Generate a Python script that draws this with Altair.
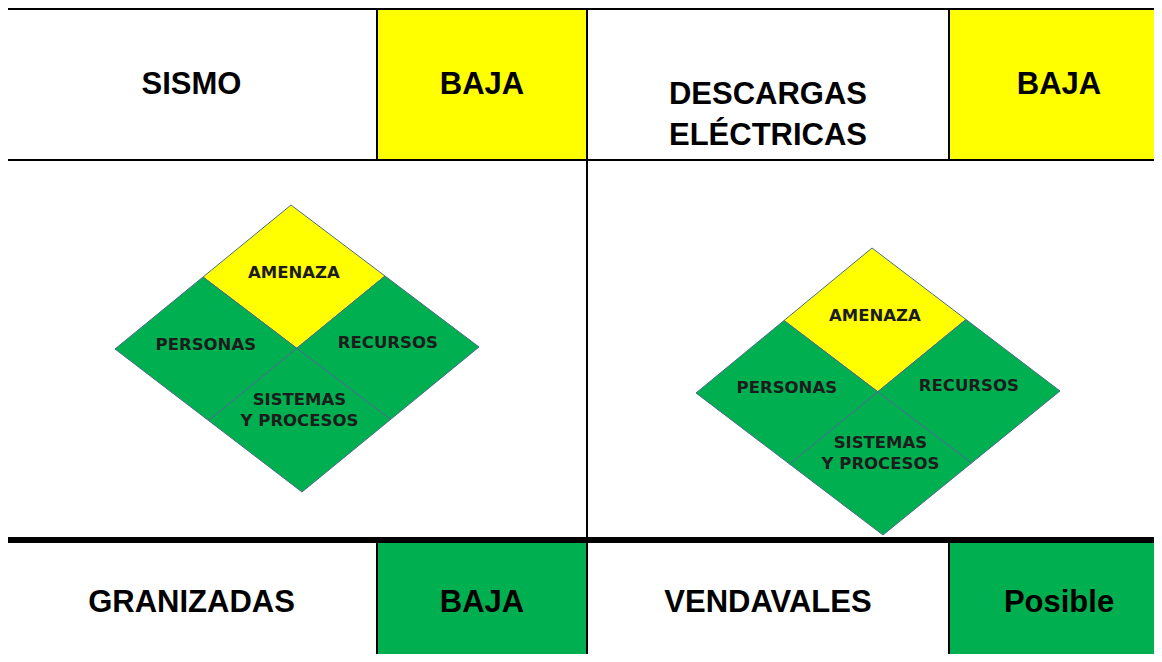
import altair as alt
import pandas as pd

# ---------------- table content ----------------
col_edges = [6, 377, 587, 949, 1170]
row_edges = [9, 160, 540, 662]

top_labels = ["SISMO", "BAJA", "DESCARGAS\nELÉCTRICAS", "BAJA"]
top_fills = ["#FFFFFF", "#FFFF00", "#FFFFFF", "#FFFF00"]
bottom_labels = ["GRANIZADAS", "BAJA", "VENDAVALES", "Posible"]
bottom_fills = ["#FFFFFF", "#00B050", "#FFFFFF", "#00B050"]

# ---------------- diamonds ----------------
quadrant_names = ["AMENAZA", "RECURSOS", "SISTEMAS\nY PROCESOS", "PERSONAS"]
quadrant_fills = ["#FFFF00", "#00B050", "#00B050", "#00B050"]
quadrant_label_dy = [-4, -5, -20, -4]
# vertices: top, right, bottom, left
diamond_left = [(291, 205), (479, 347), (302, 492), (115, 349)]
diamond_right = [(872, 248), (1060, 391), (883, 535), (696, 393)]

# ---------------- build tables ----------------
cells = []
for r, (labels, fills) in zip([0, 2], [(top_labels, top_fills), (bottom_labels, bottom_fills)]):
    y1, y2 = row_edges[r], row_edges[r + 1]
    for c in range(4):
        x1, x2 = col_edges[c], col_edges[c + 1]
        lab = labels[c]
        ty = (y1 + y2) / 2 + (0.5 if r == 0 else 2)
        if "\n" in lab:
            ty = (y1 + y2) / 2 + 10.5
        cells.append(dict(x=x1, x2=x2, y=y1, y2=y2, fill=fills[c], label=lab,
                          tx=(x1 + x2) / 2 if c < 3 else x1 + 110, ty=ty))
cells_df = pd.DataFrame(cells)

L = col_edges[0]
R = col_edges[-1]
rules = [
    dict(x=L, x2=R, y=row_edges[0], y2=row_edges[0], w=2),
    dict(x=L, x2=R, y=row_edges[1], y2=row_edges[1], w=2),
    dict(x=L, x2=R, y=row_edges[2], y2=row_edges[2], w=6),
    dict(x=col_edges[0], x2=col_edges[0], y=row_edges[0], y2=row_edges[3], w=2),
    dict(x=col_edges[2], x2=col_edges[2], y=row_edges[0], y2=row_edges[3], w=2),
]
for c in [1, 3]:
    rules.append(dict(x=col_edges[c], x2=col_edges[c], y=row_edges[0], y2=row_edges[1], w=2))
    rules.append(dict(x=col_edges[c], x2=col_edges[c], y=row_edges[2], y2=row_edges[3], w=2))
rules_df = pd.DataFrame(rules)


def mid(a, b):
    return ((a[0] + b[0]) / 2, (a[1] + b[1]) / 2)


poly_rows = []
label_rows = []
for d, verts in enumerate([diamond_left, diamond_right]):
    T, Rr, B, Lf = verts
    C = (sum(v[0] for v in verts) / 4, sum(v[1] for v in verts) / 4)
    mTR, mRB, mBL, mLT = mid(T, Rr), mid(Rr, B), mid(B, Lf), mid(Lf, T)
    quads = [
        [T, mTR, C, mLT],
        [mTR, Rr, mRB, C],
        [C, mRB, B, mBL],
        [mLT, C, mBL, Lf],
    ]
    for q, pts in enumerate(quads):
        qid = f"d{d}q{q}"
        for i, (px, py) in enumerate(pts):
            poly_rows.append(dict(id=qid, i=i, x=px, y=py, fill=quadrant_fills[q]))
        cx = sum(p[0] for p in pts) / 4
        cy = sum(p[1] for p in pts) / 4
        label_rows.append(dict(label=quadrant_names[q], x=cx, y=cy + quadrant_label_dy[q]))
poly_df = pd.DataFrame(poly_rows)
qlabel_df = pd.DataFrame(label_rows)

# ---------------- scales (page-pixel coordinates) ----------------
xs = alt.Scale(domain=[8, 1154], zero=False, nice=False)
ys = alt.Scale(domain=[8, 654], zero=False, nice=False, reverse=True)

rects = alt.Chart(cells_df).mark_rect(strokeWidth=0).encode(
    x=alt.X("x:Q", scale=xs, axis=None),
    x2="x2:Q",
    y=alt.Y("y:Q", scale=ys, axis=None),
    y2="y2:Q",
    fill=alt.Fill("fill:N", scale=None),
)

cell_text = alt.Chart(cells_df).mark_text(
    font="Liberation Sans", fontWeight="bold", fontSize=31, color="#000000",
    lineBreak="\n", lineHeight=41, baseline="middle", align="center",
).encode(
    x=alt.X("tx:Q", scale=xs, axis=None),
    y=alt.Y("ty:Q", scale=ys, axis=None),
    text="label:N",
)

lines = alt.Chart(rules_df).mark_rule(color="#000000", strokeCap="square").encode(
    x=alt.X("x:Q", scale=xs, axis=None),
    x2="x2:Q",
    y=alt.Y("y:Q", scale=ys, axis=None),
    y2="y2:Q",
    strokeWidth=alt.StrokeWidth("w:Q", scale=None),
)

poly_layers = []
for col in ["#FFFF00", "#00B050"]:
    poly_layers.append(
        alt.Chart(poly_df).transform_filter(alt.datum.fill == col).mark_line(
            fill=col, stroke="#4A6B8C", strokeWidth=1, interpolate="linear-closed",
        ).encode(
            x=alt.X("x:Q", scale=xs, axis=None),
            y=alt.Y("y:Q", scale=ys, axis=None),
            detail="id:N",
            order=alt.Order("i:Q"),
        )
    )

qtext = alt.Chart(qlabel_df).mark_text(
    font="DejaVu Sans", fontWeight="bold", fontSize=16.5, color="#1C1C1C",
    lineBreak="\n", lineHeight=21, baseline="middle", align="center",
).encode(
    x=alt.X("x:Q", scale=xs, axis=None),
    y=alt.Y("y:Q", scale=ys, axis=None),
    text="label:N",
)

chart = alt.layer(rects, *poly_layers, qtext, cell_text, lines).properties(
    width=1146, height=646, padding=0, autosize=alt.AutoSizeParams(type="none"),
    background="#FFFFFF",
).configure_view(stroke=None)

chart.save("out.html", embed_options={"renderer": "svg", "actions": False})
